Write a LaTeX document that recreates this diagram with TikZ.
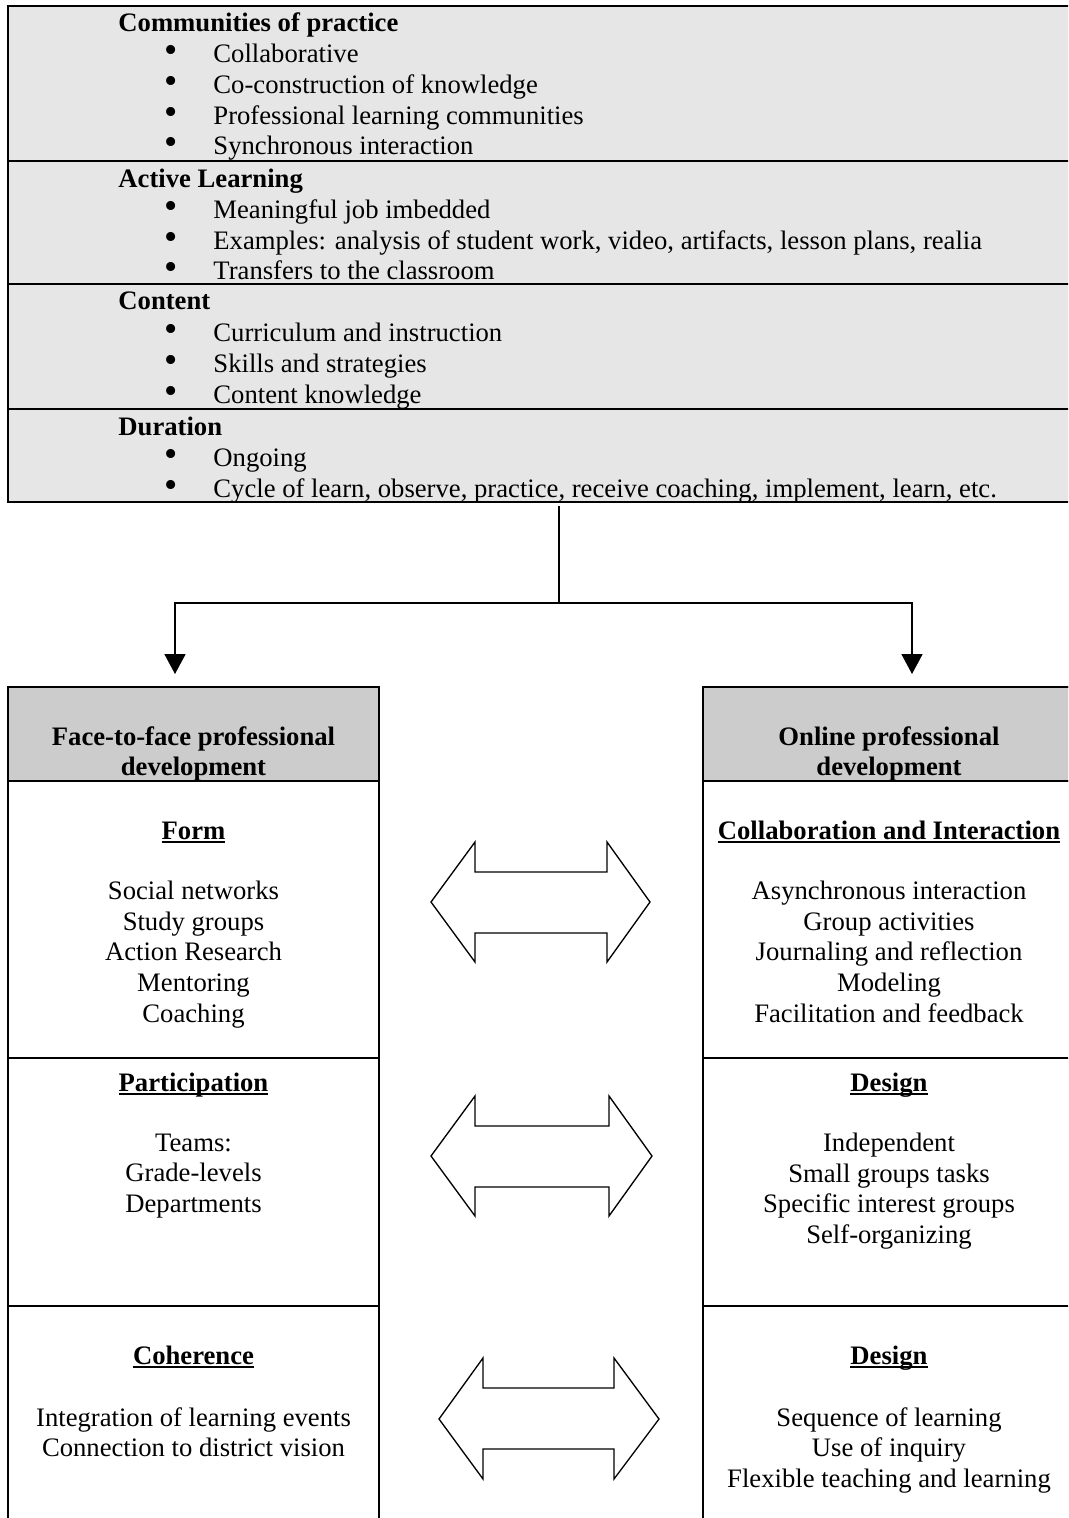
\documentclass[tikz,border=0pt]{standalone}
\usepackage{fontspec}
\setmainfont{Liberation Serif}
\usetikzlibrary{arrows.meta}
\definecolor{boxgray}{HTML}{E6E6E6}
\definecolor{headgray}{HTML}{CCCCCC}
\newcommand{\hul}[1]{\begingroup\setbox0\hbox{#1}\rlap{\rule[-2pt]{\wd0}{0.9pt}}\box0\endgroup}
\newcommand{\mybul}{\smash{\textbullet}}
\tikzset{
  txt/.style={anchor=base, inner sep=0pt, font=\fontsize{12}{14}\selectfont},
  ltxt/.style={txt, anchor=base west},
  hd/.style={txt, anchor=base west, font=\fontsize{12}{14}\selectfont\bfseries},
  chd/.style={txt, font=\fontsize{12}{14}\selectfont\bfseries},
  bul/.style={anchor=base, inner sep=0pt, font=\fontsize{17}{17}\selectfont},
  frame/.style={draw, line width=0.9pt, inner sep=0pt},
  sepline/.style={line width=0.9pt},
  conn/.style={line width=0.6pt},
  tip/.style={-{Triangle[width=9.5pt,length=9pt]}},
  dbl/.style={draw, fill=white, line width=0.6pt, line join=miter}
}
\begin{document}
\begin{tikzpicture}[x=0.45pt,y=-0.45pt]
\useasboundingbox (0,0) rectangle (1068,1518);
\clip (0,0) rectangle (1068,1518);

% ---------- top box ----------
\node[frame, fill=boxgray, minimum width=482.4pt, minimum height=223.2pt] (top) at (544,254) {};
\draw[sepline] (8,161) -- (1080,161);
\draw[sepline] (8,284) -- (1080,284);
\draw[sepline] (8,409) -- (1080,409);

\node[hd] (h1) at (118,32) {Communities of practice};
\node[bul] (b11) at (171,63) {\mybul};
\node[bul] (b12) at (171,94) {\mybul};
\node[bul] (b13) at (171,125) {\mybul};
\node[bul] (b14) at (171,155) {\mybul};
\node[ltxt] (t11) at (213,63) {Collaborative};
\node[ltxt] (t12) at (213,94) {Co-construction of knowledge};
\node[ltxt] (t13) at (213,125) {Professional learning communities};
\node[ltxt] (t14) at (213,155) {Synchronous interaction};

\node[hd] (h2) at (118,188) {Active Learning};
\node[bul] (b21) at (171,219) {\mybul};
\node[bul] (b22) at (171,250) {\mybul};
\node[bul] (b23) at (171,280) {\mybul};
\node[ltxt] (t21) at (213,219) {Meaningful job imbedded};
\node[ltxt] (t22) at (213,250) {Examples: analysis of student work, video, artifacts, lesson plans, realia};
\node[ltxt] (t23) at (213,280) {Transfers to the classroom};

\node[hd] (h3) at (118,310) {Content};
\node[bul] (b31) at (171,342) {\mybul};
\node[bul] (b32) at (171,372) {\mybul};
\node[bul] (b33) at (171,403) {\mybul};
\node[ltxt] (t31) at (213,342) {Curriculum and instruction};
\node[ltxt] (t32) at (213,372) {Skills and strategies};
\node[ltxt] (t33) at (213,403) {Content knowledge};

\node[hd] (h4) at (118,435) {Duration};
\node[bul] (b41) at (171,466) {\mybul};
\node[bul] (b42) at (171,497) {\mybul};
\node[ltxt] (t41) at (213,466) {Ongoing};
\node[ltxt] (t42) at (213,497) {Cycle of learn, observe, practice, receive coaching, implement, learn, etc.};

% ---------- connectors ----------
\coordinate (split) at (559,603);
\coordinate (lt) at (175,674);
\coordinate (rt) at (912,674);
\draw[conn] ([yshift=-1.5pt]top.south -| split) -- (split);
\draw[conn, tip] (split) -| (lt);
\draw[conn, tip] (split) -| (rt);

% ---------- left column ----------
\node[frame, fill=headgray, minimum width=166.95pt, minimum height=42.3pt] (lhead) at (193.5,734) {};
\node[frame, minimum width=166.95pt, minimum height=381.6pt] (lbox) at (193.5,1111) {};
\draw[sepline] (8,781) -- (379,781);
\draw[sepline] (8,1058) -- (379,1058);
\draw[sepline] (8,1306) -- (379,1306);

\node[chd] (lh1) at (193.5,745) {Face-to-face professional};
\node[chd] (lh2) at (193.5,775) {development};
\node[chd] (lf) at (193.5,839) {\hul{Form}};
\node[txt] (lf1) at (193.5,899) {Social networks};
\node[txt] (lf2) at (193.5,930) {Study groups};
\node[txt] (lf3) at (193.5,960) {Action Research};
\node[txt] (lf4) at (193.5,991) {Mentoring};
\node[txt] (lf5) at (193.5,1022) {Coaching};
\node[chd] (lp) at (193.5,1091) {\hul{Participation}};
\node[txt] (lp1) at (193.5,1151) {Teams:};
\node[txt] (lp2) at (193.5,1181) {Grade-levels};
\node[txt] (lp3) at (193.5,1212) {Departments};
\node[chd] (lc) at (193.5,1364) {\hul{Coherence}};
\node[txt] (lc1) at (193.5,1426) {Integration of learning events};
\node[txt] (lc2) at (193.5,1456) {Connection to district vision};

% ---------- right column ----------
\node[frame, fill=headgray, minimum width=167.4pt, minimum height=42.3pt] (rhead) at (889,734) {};
\node[frame, minimum width=167.4pt, minimum height=381.6pt] (rbox) at (889,1111) {};
\draw[sepline] (703,781) -- (1075,781);
\draw[sepline] (703,1058) -- (1075,1058);
\draw[sepline] (703,1306) -- (1075,1306);

\node[chd] (rh1) at (889,745) {Online professional};
\node[chd] (rh2) at (889,775) {development};
\node[chd] (rf) at (889,839) {\hul{Collaboration and Interaction}};
\node[txt] (rf1) at (889,899) {Asynchronous interaction};
\node[txt] (rf2) at (889,930) {Group activities};
\node[txt] (rf3) at (889,960) {Journaling and reflection};
\node[txt] (rf4) at (889,991) {Modeling};
\node[txt] (rf5) at (889,1022) {Facilitation and feedback};
\node[chd] (rd) at (889,1091) {\hul{Design}};
\node[txt] (rd1) at (889,1151) {Independent};
\node[txt] (rd2) at (889,1182) {Small groups tasks};
\node[txt] (rd3) at (889,1212) {Specific interest groups};
\node[txt] (rd4) at (889,1243) {Self-organizing};
\node[chd] (rs) at (889,1364) {\hul{Design}};
\node[txt] (rs1) at (889,1426) {Sequence of learning};
\node[txt] (rs2) at (889,1456) {Use of inquiry};
\node[txt] (rs3) at (889,1487) {Flexible teaching and learning};

% ---------- double arrows ----------
\draw[dbl] (431,902) -- (475,842) -- (475,872) -- (607,872) -- (607,842) -- (650,902) -- (607,962) -- (607,933) -- (475,933) -- (475,962) -- cycle;
\draw[dbl] (431,1156) -- (475,1096) -- (475,1126) -- (609,1126) -- (609,1096) -- (652,1156) -- (609,1216) -- (609,1187) -- (475,1187) -- (475,1216) -- cycle;
\draw[dbl] (439,1419) -- (483,1358) -- (483,1388) -- (614,1388) -- (614,1358) -- (659,1419) -- (614,1479) -- (614,1449) -- (483,1449) -- (483,1479) -- cycle;
\end{tikzpicture}
\end{document}
